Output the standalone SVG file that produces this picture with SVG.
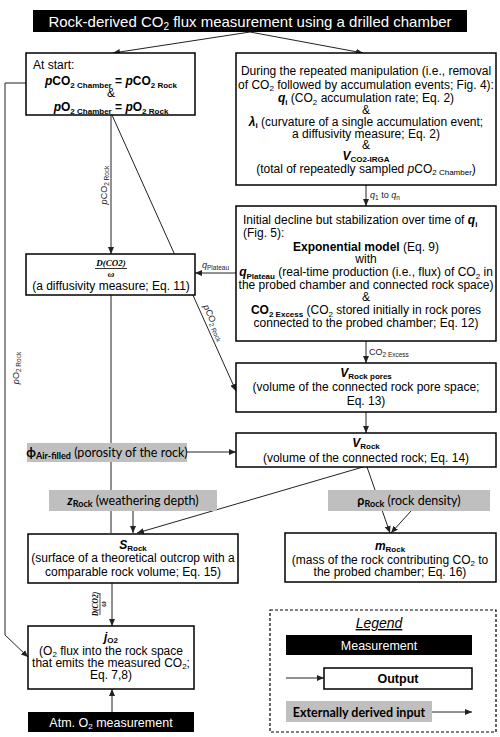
<svg xmlns="http://www.w3.org/2000/svg" width="500" height="737" viewBox="0 0 500 737">
<defs>
<marker id="ah" markerWidth="7" markerHeight="6" refX="7" refY="3" orient="auto" markerUnits="userSpaceOnUse">
<path d="M0,0 L7,3 L0,6 z" fill="#222"/>
</marker>
<style>
.box{fill:#fff;stroke:#000;stroke-width:1.5}
.blk{fill:#000}
.gry{fill:#bfbfbf}
.ln{stroke:#222;stroke-width:1;fill:none}
.t{font-family:'Liberation Sans',Arial,sans-serif;font-size:12px;fill:#000}
.g{font-family:Lato,'Open Sans','DejaVu Sans',sans-serif;font-size:12.5px;fill:#000}
.c{text-anchor:middle}
.w{fill:#fff}
.b{font-weight:bold}
.i{font-style:italic}
.s{font-size:8px}
.lab{font-family:'Liberation Sans',Arial,sans-serif;font-size:9px;fill:#222}
.ls{font-size:6.5px}
.m{font-family:'Liberation Serif','DejaVu Serif',serif;font-size:9px;font-weight:bold;font-style:italic;fill:#000}
</style>
</defs>
<rect width="500" height="737" fill="#fff"/>

<g id="connectors">
<line class="ln" x1="250" y1="32" x2="113" y2="53" marker-end="url(#ah)"/>
<line class="ln" x1="250" y1="32" x2="363" y2="53" marker-end="url(#ah)"/>
<line class="ln" x1="111" y1="115" x2="111" y2="254" marker-end="url(#ah)"/>
<line class="ln" x1="112" y1="115" x2="236" y2="391" marker-end="url(#ah)"/>
<polyline class="ln" points="26,83 5,83 5,635 28,657" marker-end="url(#ah)"/>
<line class="ln" x1="366" y1="185" x2="366" y2="206" marker-end="url(#ah)"/>
<line class="ln" x1="236" y1="273" x2="195" y2="273" marker-end="url(#ah)"/>
<line class="ln" x1="366" y1="341" x2="366" y2="363" marker-end="url(#ah)"/>
<line class="ln" x1="366" y1="412" x2="366" y2="433" marker-end="url(#ah)"/>
<line class="ln" x1="187" y1="452" x2="236" y2="452" marker-end="url(#ah)"/>
<line class="ln" x1="111" y1="295" x2="111" y2="533"/>
<line class="ln" x1="133" y1="511" x2="133" y2="533" marker-end="url(#ah)"/>
<line class="ln" x1="363" y1="467" x2="137" y2="533" marker-end="url(#ah)"/>
<line class="ln" x1="367" y1="467" x2="390" y2="533" marker-end="url(#ah)"/>
<line class="ln" x1="411" y1="511" x2="391" y2="533" marker-end="url(#ah)"/>
<line class="ln" x1="112" y1="583" x2="112" y2="626" marker-end="url(#ah)"/>
<line class="ln" x1="112" y1="712" x2="112" y2="689" marker-end="url(#ah)"/>
<line class="ln" x1="286" y1="678" x2="324" y2="678" marker-end="url(#ah)"/>
<line class="ln" x1="432" y1="712" x2="472" y2="712" marker-end="url(#ah)"/>

<text class="lab" transform="translate(107,185) rotate(-90)" text-anchor="middle"><tspan class="i">p</tspan>CO<tspan class="ls" dy="2">2 Rock</tspan></text>
<text class="lab" transform="translate(211,324) rotate(66)" text-anchor="middle"><tspan class="i">p</tspan>CO<tspan class="ls" dy="2">2 Rock</tspan></text>
<text class="lab" transform="translate(19,368) rotate(-90)" text-anchor="middle"><tspan class="i">p</tspan>O<tspan class="ls" dy="2">2 Rock</tspan></text>
<text class="lab" x="370" y="198"><tspan class="i">q</tspan><tspan class="ls" dy="2">1</tspan><tspan dy="-2"> to </tspan><tspan class="i">q</tspan><tspan class="ls" dy="2">n</tspan></text>
<text class="lab" x="202" y="268"><tspan class="i">q</tspan><tspan class="ls" dy="2">Plateau</tspan></text>
<text class="lab" x="369" y="355">CO<tspan class="ls" dy="2">2 Excess</tspan></text>
<g transform="translate(100,604) rotate(-90)">
<text class="m" x="0" y="-2" text-anchor="middle" style="font-size:7.5px">D(CO2)</text>
<line x1="-11" y1="0" x2="11" y2="0" stroke="#000" stroke-width="0.7"/>
<text class="m" x="0" y="6" text-anchor="middle" style="font-size:7.5px">ω</text>
</g>
</g>

<g id="title">
<rect class="blk" x="33" y="10" width="434" height="22"/>
<text class="t w c" x="250" y="26.5" style="font-size:15px">Rock-derived CO<tspan style="font-size:10px" dy="3">2</tspan><tspan dy="-3"> flux measurement using a drilled chamber</tspan></text>
</g>

<g id="at-start">
<rect class="box" x="26" y="53" width="169" height="62"/>
<text class="t" x="33" y="68.5">At start:</text>
<text class="t c b" x="111" y="85"><tspan class="i">p</tspan>CO<tspan class="s" dy="2.5">2 Chamber</tspan><tspan dy="-2.5"> = </tspan><tspan class="i">p</tspan>CO<tspan class="s" dy="2.5">2 Rock</tspan></text>
<text class="t c" x="111" y="97">&amp;</text>
<text class="t c b" x="111" y="111"><tspan class="i">p</tspan>O<tspan class="s" dy="2.5">2 Chamber</tspan><tspan dy="-2.5"> = </tspan><tspan class="i">p</tspan>O<tspan class="s" dy="2.5">2 Rock</tspan></text>
</g>

<g id="manipulation">
<rect class="box" x="236" y="53" width="260" height="132"/>
<text class="t c" x="366" y="75">During the repeated manipulation (i.e., removal</text>
<text class="t c" x="366" y="88.5">of CO<tspan class="s" dy="2.5">2</tspan><tspan dy="-2.5"> followed by accumulation events; Fig. 4):</tspan></text>
<text class="t c" x="366" y="102"><tspan class="b i">q</tspan><tspan class="b s" dy="2.5">i</tspan><tspan dy="-2.5"> (CO</tspan><tspan class="s" dy="2.5">2</tspan><tspan dy="-2.5"> accumulation rate; Eq. 2)</tspan></text>
<text class="t c" x="366" y="113.5">&amp;</text>
<text class="t c" x="366" y="125.5"><tspan class="b i">λ</tspan><tspan class="b s" dy="2.5">i</tspan><tspan dy="-2.5"> (curvature of a single accumulation event;</tspan></text>
<text class="t c" x="366" y="137.5">a diffusivity measure; Eq. 2)</text>
<text class="t c" x="366" y="148.5">&amp;</text>
<text class="t c b" x="366" y="160"><tspan class="i">V</tspan><tspan class="s" dy="2">CO2-IRGA</tspan></text>
<text class="t c" x="366" y="172.5">(total of repeatedly sampled <tspan class="i">p</tspan>CO<tspan class="s" dy="2.5">2 Chamber</tspan><tspan dy="-2.5">)</tspan></text>
</g>

<g id="exponential">
<rect class="box" x="236" y="206" width="260" height="135"/>
<text class="t" x="243" y="224">Initial decline but stabilization over time of <tspan class="b i">q</tspan><tspan class="b s" dy="2.5">i</tspan></text>
<text class="t" x="243" y="237">(Fig. 5):</text>
<text class="t c" x="366" y="251"><tspan class="b">Exponential model</tspan> (Eq. 9)</text>
<text class="t c" x="366" y="262.5">with</text>
<text class="t c" x="366" y="276"><tspan class="b i">q</tspan><tspan class="b s" dy="2.5">Plateau</tspan><tspan dy="-2.5"> (real-time production (i.e., flux) of CO</tspan><tspan class="s" dy="2.5">2</tspan><tspan dy="-2.5"> in</tspan></text>
<text class="t c" x="366" y="289">the probed chamber and connected rock space)</text>
<text class="t c" x="366" y="301">&amp;</text>
<text class="t c" x="366" y="314"><tspan class="b">CO</tspan><tspan class="b s" dy="2.5">2 Excess</tspan><tspan dy="-2.5"> (CO</tspan><tspan class="s" dy="2.5">2</tspan><tspan dy="-2.5"> stored initially in rock pores</tspan></text>
<text class="t c" x="366" y="327">connected to the probed chamber; Eq. 12)</text>
</g>

<g id="diffusivity">
<rect class="box" x="26" y="254" width="169" height="41"/>
<text class="m" x="111" y="266" text-anchor="middle">D(CO2)</text>
<line x1="95" y1="268.5" x2="127" y2="268.5" stroke="#000" stroke-width="0.8"/>
<text class="m" x="111" y="276.5" text-anchor="middle">ω</text>
<text class="t c" x="111" y="289.5">(a diffusivity measure; Eq. 11)</text>
</g>

<g id="vrockpores">
<rect class="box" x="236" y="363" width="260" height="49"/>
<text class="t c b" x="366" y="377"><tspan class="i">V</tspan><tspan class="s" dy="2">Rock pores</tspan></text>
<text class="t c" x="366" y="391">(volume of the connected rock pore space;</text>
<text class="t c" x="366" y="405">Eq. 13)</text>
</g>

<g id="vrock">
<rect class="box" x="236" y="433" width="260" height="34"/>
<text class="t c b" x="366" y="447"><tspan class="i">V</tspan><tspan class="s" dy="2">Rock</tspan></text>
<text class="t c" x="366" y="461.5">(volume of the connected rock; Eq. 14)</text>
</g>

<g id="porosity">
<rect class="gry" x="27" y="443" width="160" height="19"/>
<text class="g c" x="107" y="457"><tspan class="b">ϕ</tspan><tspan class="b" style="font-size:9px" dy="2">Air-filled</tspan><tspan dy="-2"> (porosity of the rock)</tspan></text>
</g>

<g id="zrock">
<rect class="gry" x="49" y="490" width="168" height="21"/>
<text class="g c" x="133" y="505"><tspan class="b i">z</tspan><tspan class="b" style="font-size:9px" dy="2">Rock</tspan><tspan dy="-2"> (weathering depth)</tspan></text>
</g>

<g id="rhorock">
<rect class="gry" x="328" y="490" width="162" height="21"/>
<text class="g c" x="409" y="505"><tspan class="b">ρ</tspan><tspan class="b" style="font-size:9px" dy="2">Rock</tspan><tspan dy="-2"> (rock density)</tspan></text>
</g>

<g id="srock">
<rect class="box" x="28" y="534" width="210" height="49"/>
<text class="t c b" x="133" y="548.5"><tspan class="i">S</tspan><tspan class="s" dy="2">Rock</tspan></text>
<text class="t c" x="133" y="562">(surface of a theoretical outcrop with a</text>
<text class="t c" x="133" y="576">comparable rock volume; Eq. 15)</text>
</g>

<g id="mrock">
<rect class="box" x="285" y="533" width="211" height="49"/>
<text class="t c b" x="390" y="550"><tspan class="i">m</tspan><tspan class="s" dy="2">Rock</tspan></text>
<text class="t c" x="390" y="563.5">(mass of the rock contributing CO<tspan class="s" dy="2.5">2</tspan><tspan dy="-2.5"> to</tspan></text>
<text class="t c" x="390" y="576">the probed chamber; Eq. 16)</text>
</g>

<g id="jo2">
<rect class="box" x="28" y="626" width="166" height="63"/>
<text class="t c b" x="111" y="641"><tspan class="i">j</tspan><tspan class="s" dy="2">O2</tspan></text>
<text class="t c" x="111" y="654.5">(O<tspan class="s" dy="2.5">2</tspan><tspan dy="-2.5"> flux into the rock space</tspan></text>
<text class="t c" x="111" y="666.5">that emits the measured CO<tspan class="s" dy="2.5">2</tspan><tspan dy="-2.5">;</tspan></text>
<text class="t c" x="111" y="678.5">Eq. 7,8)</text>
</g>

<g id="atm">
<rect class="blk" x="28" y="712" width="166" height="20"/>
<text class="t w c" x="111" y="726.5" style="font-size:12.5px">Atm. O<tspan class="s" dy="2.5">2</tspan><tspan dy="-2.5"> measurement</tspan></text>
</g>

<g id="legend">
<rect x="270" y="610" width="226" height="122" fill="none" stroke="#000" stroke-width="1.2" stroke-dasharray="3,2"/>
<text class="t c i" x="379" y="628" style="font-size:14px" text-decoration="underline">Legend</text>
<rect class="blk" x="286" y="635" width="186" height="20"/>
<text class="t w c" x="379" y="650" style="font-size:12.5px">Measurement</text>
<rect class="box" x="324" y="668" width="148" height="21"/>
<text class="t c b" x="398" y="683" style="font-size:12.5px">Output</text>
<rect class="gry" x="286" y="701" width="146" height="21"/>
<text class="g c b" x="359" y="716.5">Externally derived input</text>
</g>
</svg>
